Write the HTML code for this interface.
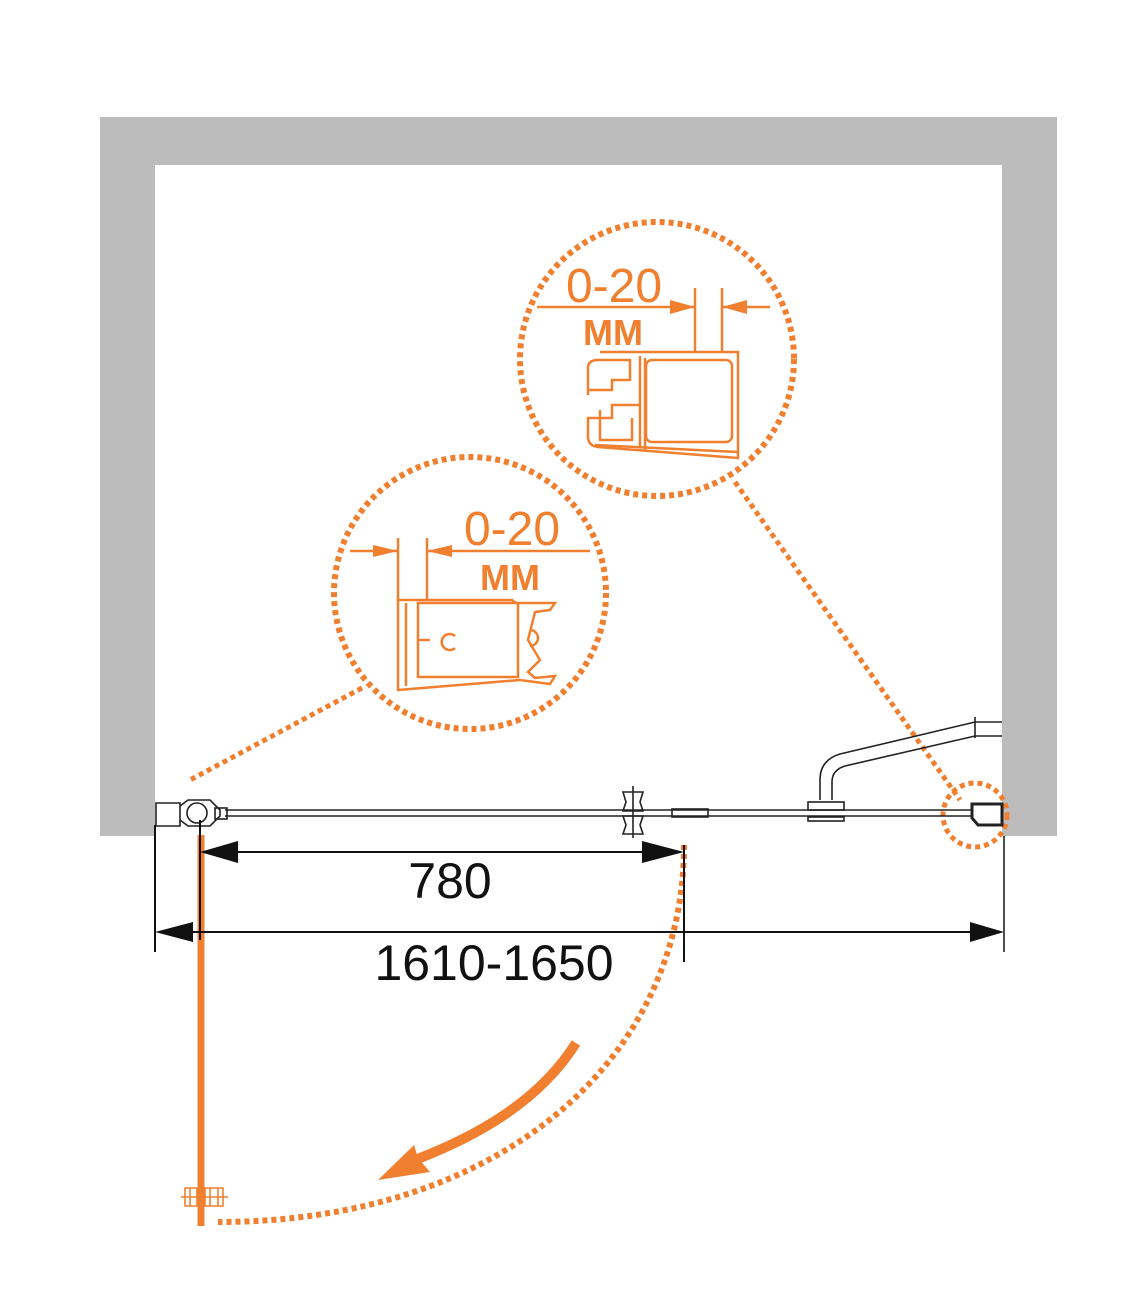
<!DOCTYPE html>
<html><head><style>
html,body{margin:0;padding:0;background:#fff;}
svg{display:block;}
text{font-family:"Liberation Sans",sans-serif;}
</style></head><body>
<svg width="1143" height="1300" viewBox="0 0 1143 1300" xmlns="http://www.w3.org/2000/svg">
<!-- walls -->
<path d="M100,117 H1057 V836 H1002 V165 H155 V836 H100 Z" fill="#bcbcbc"/>

<g fill="none" stroke="#f08030" stroke-linecap="butt">
 <!-- detail circles -->
 <circle cx="657" cy="359" r="137" stroke-width="6" stroke-dasharray="5 4"/>
 <circle cx="470" cy="593" r="136" stroke-width="6" stroke-dasharray="5 4"/>
 <circle cx="975" cy="815" r="32" stroke-width="5" stroke-dasharray="5 4"/>
 <!-- leaders -->
 <path d="M735,482 L960,800" stroke-width="5" stroke-dasharray="5 4"/>
 <path d="M362,688 L190,780" stroke-width="5" stroke-dasharray="5 4"/>
 <!-- swing arc -->
 <path d="M684,845 C684,1060 500,1222 218,1222" stroke-width="6" stroke-dasharray="5 4"/>
 <!-- swing arrow -->
 <path d="M576,1043 C540,1100 480,1135 415,1160" stroke-width="10"/>
 <!-- door -->
 <line x1="201" y1="835" x2="201" y2="1226" stroke-width="7"/>
 <!-- bottom hinge -->
 <g stroke-width="1.6">
  <path d="M185,1188 h12 v18 h-12 z M205,1188 h18 v18 h-18 z"/>
  <line x1="181" y1="1197" x2="228" y2="1197"/>
  <path d="M190,1188 v18 M210,1188 v18 M218,1188 v18"/>
 </g>
</g>
<path d="M378,1180 L414,1145 L418,1158 L430,1172 Z" fill="#f08030"/>

<!-- upper detail -->
<g fill="none" stroke="#f08030" stroke-width="2.5">
 <line x1="537" y1="307" x2="695" y2="307"/>
 <line x1="722" y1="307" x2="770" y2="307"/>
 <line x1="695" y1="288" x2="695" y2="352"/>
 <line x1="722" y1="288" x2="722" y2="352"/>
 <path d="M600,352 H738 V458 L598,447 Q588,446 588,436 V418 H612 V405 H640 M588,418"/>
 <path d="M588,395 V368 Q588,360 598,360 H630 V380 H612 V390 H588"/>
 <path d="M640,356 V448 M645,358 V450"/>
 <rect x="646" y="360" width="86" height="82" rx="6"/>
 <path d="M595,445 L738,452"/>
 <path d="M600,410 V440 H632 V418"/>
</g>
<path d="M670,300 L695,307 L670,314 Z M747,300 L722,307 L747,314 Z" fill="#f08030"/>
<text x="614" y="302" font-size="48" fill="#f08030" text-anchor="middle">0-20</text>
<text x="613" y="345" font-size="36" font-weight="bold" fill="#f08030" text-anchor="middle">MM</text>

<!-- lower detail -->
<g fill="none" stroke="#f08030" stroke-width="2.5">
 <line x1="350" y1="551" x2="398" y2="551"/>
 <line x1="427" y1="551" x2="590" y2="551"/>
 <line x1="398" y1="538" x2="398" y2="600"/>
 <line x1="427" y1="538" x2="427" y2="600"/>
 <path d="M398,600 H512 L516,603 H555 L550,610 L535,612 L528,640 L540,660 L528,672 L535,678 L555,676 L550,684 L520,680 Q470,684 398,690 Z"/>
 <rect x="418" y="603" width="100" height="74"/>
 <path d="M406,603 V686 M418,640 H430"/>
 <path d="M455,636 A8,8 0 1 0 455,648"/>
 <path d="M530,630 A8,8 0 1 1 530,646"/>
</g>
<path d="M373,545 L398,551 L373,557 Z M452,545 L427,551 L452,557 Z" fill="#f08030"/>
<text x="512" y="545" font-size="48" fill="#f08030" text-anchor="middle">0-20</text>
<text x="510" y="590" font-size="36" font-weight="bold" fill="#f08030" text-anchor="middle">MM</text>

<!-- glass & hardware -->
<g fill="none" stroke="#222" stroke-width="1.6">
 <line x1="225" y1="810" x2="972" y2="810"/>
 <line x1="225" y1="816" x2="972" y2="816"/>
 <!-- left hinge -->
 <path d="M156,803 H180 V826 H156 Z"/>
 <path d="M180,806 L188,800 H210 L220,810 V816 L210,826 H188 L180,820"/>
 <circle cx="197" cy="813" r="10"/>
 <rect x="215" y="808" width="12" height="11"/>
 <!-- knob -->
 <path d="M623,792 H643 L640,802 L643,811 H623 L626,802 Z"/>
 <path d="M623,816 H643 L640,825 L643,834 H623 L626,825 Z"/>
 <line x1="633" y1="786" x2="633" y2="838"/>
 <!-- magnet -->
 <rect x="672" y="809" width="36" height="8"/>
 <!-- support bar -->
 <path d="M820,800 V780 Q820,760 840,754 L975,722 H1002"/>
 <path d="M832,800 V782 Q832,770 845,766 L975,736 H1002"/>
 <line x1="975" y1="717" x2="975" y2="738"/>
 <rect x="808" y="802" width="36" height="8"/>
 <rect x="808" y="817" width="36" height="4"/>
 <!-- wall profile -->
 <path d="M972,804 H1002 V825 H978 L972,818 Z" stroke-width="3"/>
 <line x1="1004" y1="836" x2="1004" y2="952"/>
</g>

<!-- dimensions -->
<g stroke="#111" stroke-width="2" fill="none">
 <line x1="155" y1="825" x2="155" y2="952"/>
 <line x1="200" y1="820" x2="200" y2="940"/>
 <line x1="684" y1="845" x2="684" y2="962"/>
 <line x1="230" y1="852" x2="650" y2="852"/>
 <line x1="185" y1="932" x2="975" y2="932"/>
</g>
<g fill="#111">
 <path d="M200,852 L238,841 L238,863 Z"/>
 <path d="M684,852 L642,841 L642,863 Z"/>
 <path d="M155,932 L193,922 L193,942 Z"/>
 <path d="M1004,932 L970,922 L970,942 Z"/>
</g>
<text x="450" y="898" font-size="50" fill="#111" text-anchor="middle">780</text>
<text x="494" y="980" font-size="50" fill="#111" text-anchor="middle">1610-1650</text>
</svg>
</body></html>
